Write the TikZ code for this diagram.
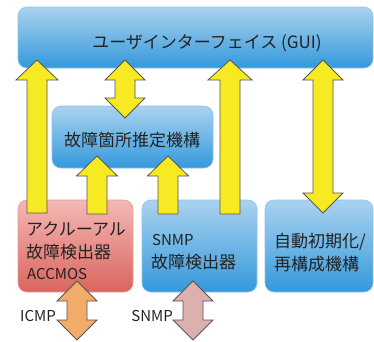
\documentclass[tikz,border=0pt]{standalone}
\usepackage{fontspec}
\setmainfont{Noto Sans CJK JP}
\begin{document}
\begin{tikzpicture}[x=1pt,y=-1pt,
  bluebox/.style={rounded corners=9pt, top color=blueT, bottom color=blueB, draw=blueL, line width=0.6pt},
  redbox/.style={rounded corners=9pt, top color=redT, bottom color=redB, draw=redL, line width=0.6pt},
  blockarrow/.style={draw=arrowline, line width=0.8pt, line join=miter},
  yellowarrow/.style={blockarrow, fill=arrowyellow},
  lbl/.style={text=textcol, font=\fontsize{17}{22}\selectfont, inner sep=0pt},
  sublbl/.style={text=textcol, font=\fontsize{15}{18}\selectfont, inner sep=0pt}
]
\definecolor{blueT}{HTML}{ABD2EF}
\definecolor{blueB}{HTML}{3399DB}
\definecolor{blueL}{HTML}{8EC3EA}
\definecolor{redT}{HTML}{F4B8B5}
\definecolor{redB}{HTML}{DA655E}
\definecolor{redL}{HTML}{E99A95}
\definecolor{arrowyellow}{HTML}{F8EA22}
\definecolor{arrowline}{HTML}{555555}
\definecolor{orangearrow}{HTML}{F2AC6A}
\definecolor{pinkarrow}{HTML}{DDB0B0}
\definecolor{textcol}{HTML}{222222}
\useasboundingbox (0,0) rectangle (374,341);
% boxes
\path[bluebox] (18,7) rectangle (373,68);
\node[lbl] (gui) at (207,43) {ユーザインターフェイス (GUI)};
\path[bluebox] (52,106) rectangle (213,168);
\node[lbl] (est) at (132,140) {故障箇所推定機構};
\path[redbox] (18,200) rectangle (133,292);
\node[lbl, anchor=west] (acc1) at (26,229) {アクルーアル};
\node[lbl, anchor=west] (acc2) at (26,252) {故障検出器};
\node[sublbl, anchor=west] (acc3) at (27,274) {ACCMOS};
\path[bluebox] (142,200) rectangle (257,292);
\node[sublbl, anchor=west] (sn1) at (152,240) {SNMP};
\node[lbl, anchor=west] (sn2) at (151,262) {故障検出器};
\path[bluebox] (265,200) rectangle (373,292);
\node[lbl, anchor=west] (re1) at (274,242) {自動初期化/};
\node[lbl, anchor=west] (re2) at (274,264) {再構成機構};
% yellow arrows
\newcommand{\uparrowshape}[5]{% style, x, tip, bottom, headhalf
  \draw[#1] (#2,#3) -- ++(#5,20) -- (#2+10,#3+20) -- (#2+10,#4) -- (#2-10,#4) -- (#2-10,#3+20) -- (#2-#5,#3+20) -- cycle;}
\newcommand{\dblarrowshape}[4]{% style, x, top, bottom
  \draw[#1] (#2,#3) -- (#2+20,#3+20) -- (#2+10,#3+20) -- (#2+10,#4-20) -- (#2+20,#4-20) -- (#2,#4) -- (#2-20,#4-20) -- (#2-10,#4-20) -- (#2-10,#3+20) -- (#2-20,#3+20) -- cycle;}
\uparrowshape{yellowarrow}{37}{60}{213}{21}
\dblarrowshape{yellowarrow}{125}{60}{118}
\uparrowshape{yellowarrow}{230}{60}{214}{22}
\dblarrowshape{yellowarrow}{323}{60}{213}
\uparrowshape{yellowarrow}{97}{156}{214}{20.5}
\uparrowshape{yellowarrow}{168}{156}{214}{20.5}
% protocol arrows
\dblarrowshape{blockarrow, fill=orangearrow}{77}{281}{340}
\dblarrowshape{blockarrow, fill=pinkarrow}{193}{281}{340}
\node[sublbl, anchor=east] (icmp) at (56,316) {ICMP};
\node[sublbl, anchor=east] (snmp) at (173,316) {SNMP};
\end{tikzpicture}
\end{document}
